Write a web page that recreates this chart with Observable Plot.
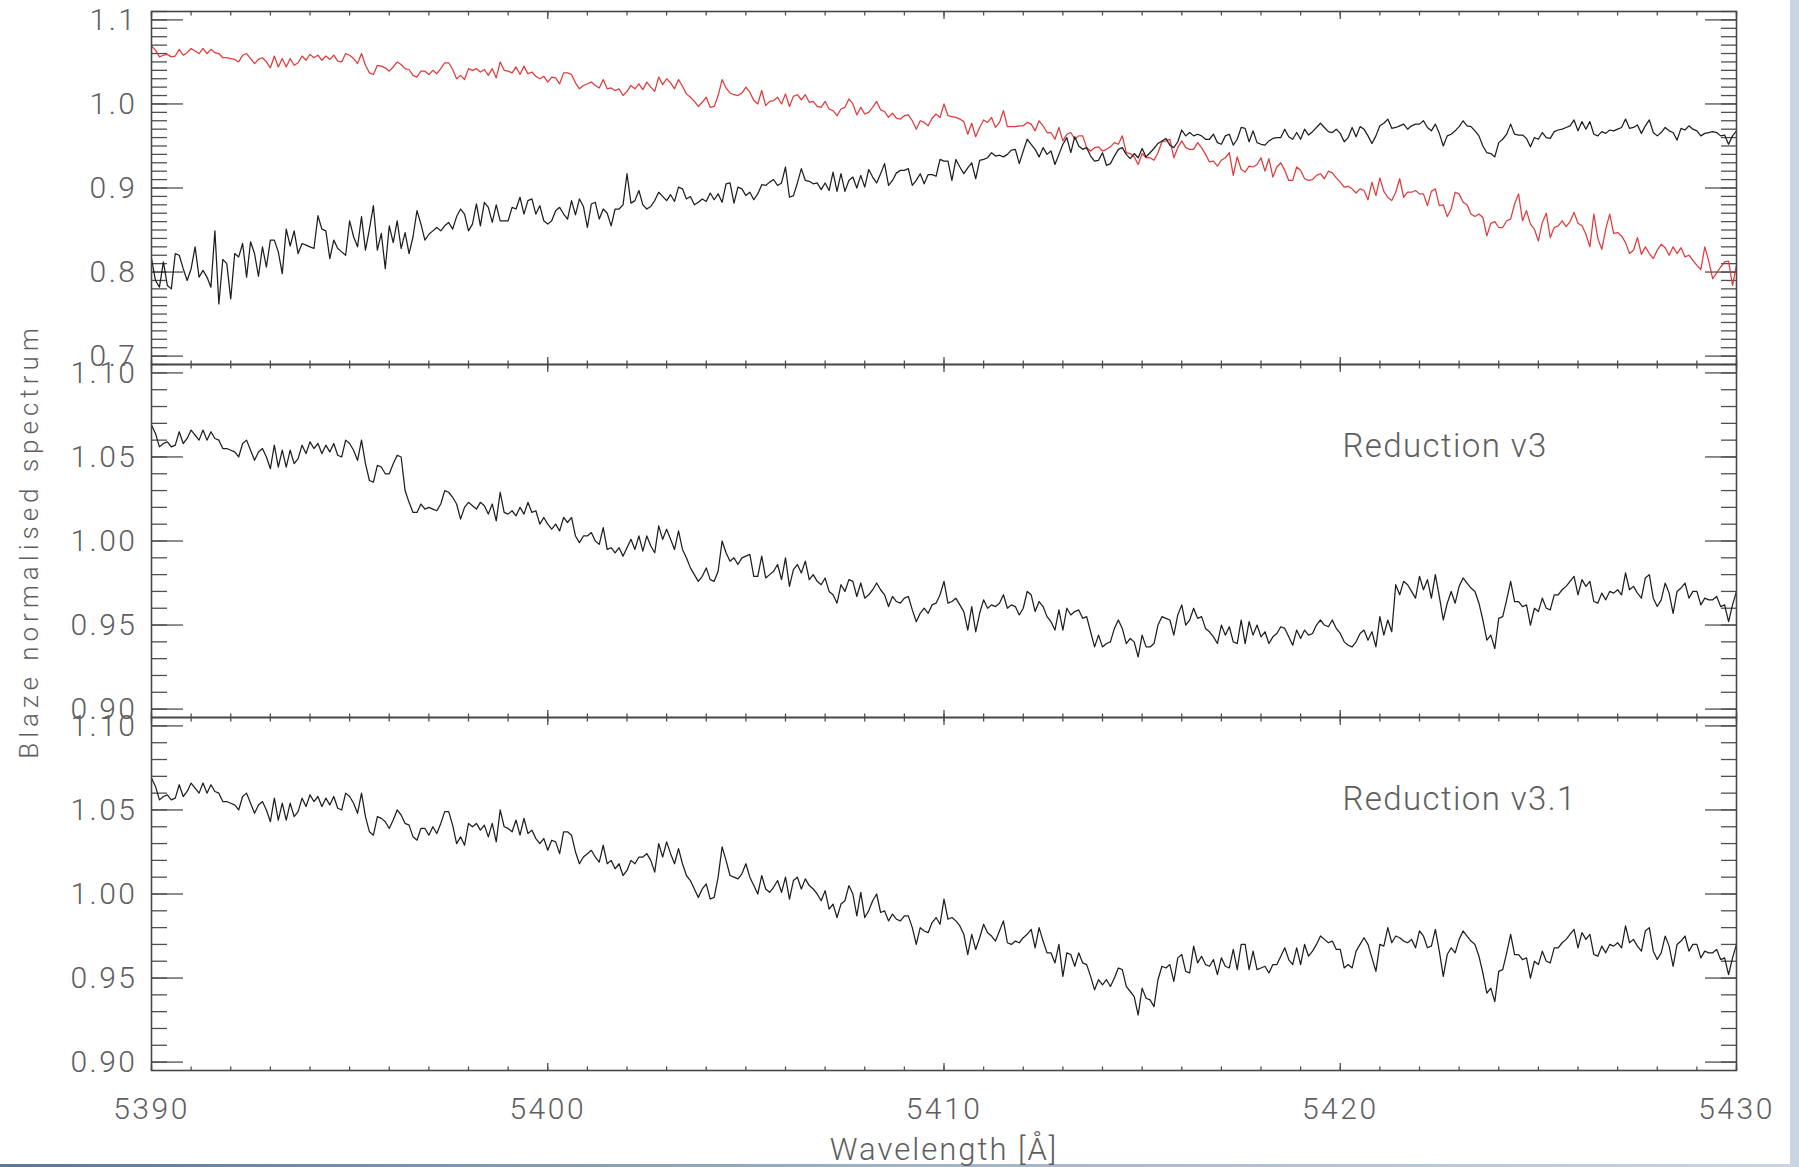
<!DOCTYPE html>
<html>
<head>
<meta charset="utf-8">
<script src="https://cdn.jsdelivr.net/npm/d3@7"></script>
<script src="https://cdn.jsdelivr.net/npm/@observablehq/plot@0.6"></script>
<style>
  html, body { margin: 0; padding: 0; background: #fff; }
  #chart { position: relative; width: 1799px; height: 1167px; overflow: hidden; background: #fff; }
  #chart svg { position: absolute; left: 0; }
  #rstrip { position: absolute; left: 1790px; top: 0; width: 9px; height: 1167px; background: #c9d5e2; }
  #bstrip { position: absolute; left: 0; top: 1164px; width: 1790px; height: 3px;
            background: linear-gradient(to right, #5b7896, #9fb2c6 50%, #c9d5e2); }
</style>
</head>
<body>
<div id="chart"><div id="rstrip"></div><div id="bstrip"></div></div>
<script>
// ---------------- data (wavelength grid 5390.0 .. 5430.0 Å, 0.1 Å steps) ----------------
const wavelengthRange = [5390, 5430];
const xMajorTicks = [5390, 5400, 5410, 5420, 5430];
const xMinorTicks = d3.range(5390, 5431, 1);
const yMajorTop = [0.7, 0.8, 0.9, 1.0, 1.1];
const yMinorTop = d3.range(69, 112).map(d => d / 100);
const yMajorLow = [0.90, 0.95, 1.00, 1.05, 1.10];
const yMinorLow = d3.range(90, 111).map(d => d / 100);
const panelLabels = ["Reduction v3", "Reduction v3.1"];
const xTitle = "Wavelength [Å]";
const yTitle = "Blaze normalised spectrum";

// top panel, red: spectrum before correction
const fluxOriginal = [
1.069,1.064,1.056,1.058,1.059,1.056,1.057,1.065,1.058,1.061,
1.066,1.063,1.060,1.066,1.060,1.065,1.061,1.060,1.055,1.055,
1.054,1.053,1.050,1.058,1.060,1.054,1.048,1.053,1.055,1.050,
1.043,1.057,1.044,1.054,1.044,1.054,1.046,1.049,1.057,1.052,
1.059,1.055,1.058,1.052,1.057,1.053,1.058,1.051,1.050,1.060,
1.058,1.054,1.048,1.060,1.046,1.037,1.035,1.046,1.045,1.043,
1.039,1.044,1.050,1.047,1.042,1.041,1.034,1.032,1.039,1.039,
1.035,1.040,1.036,1.042,1.049,1.049,1.041,1.030,1.034,1.029,
1.042,1.040,1.042,1.038,1.041,1.034,1.042,1.031,1.050,1.040,
1.039,1.037,1.044,1.035,1.045,1.036,1.038,1.033,1.030,1.033,
1.026,1.032,1.031,1.024,1.037,1.037,1.035,1.025,1.018,1.022,
1.024,1.026,1.022,1.019,1.029,1.018,1.019,1.016,1.018,1.010,
1.015,1.022,1.018,1.024,1.017,1.026,1.020,1.015,1.032,1.023,
1.030,1.025,1.018,1.029,1.021,1.012,1.008,1.003,0.997,1.002,
1.008,0.996,0.997,1.010,1.029,1.019,1.013,1.011,1.010,1.013,
1.020,1.014,1.004,1.000,1.016,0.998,1.003,1.004,1.008,1.000,
1.012,0.997,1.009,1.011,1.005,1.011,1.002,1.003,0.997,0.996,
1.003,0.994,0.992,0.986,0.994,0.996,1.006,1.000,0.987,0.996,
0.988,0.990,0.996,1.003,0.993,0.991,0.984,0.989,0.983,0.982,
0.986,0.987,0.980,0.970,0.980,0.978,0.974,0.983,0.988,0.984,
1.000,0.986,0.985,0.984,0.982,0.979,0.964,0.977,0.961,0.972,
0.981,0.978,0.984,0.972,0.978,0.992,0.973,0.973,0.973,0.974,
0.974,0.978,0.976,0.968,0.980,0.974,0.966,0.966,0.958,0.972,
0.956,0.964,0.966,0.958,0.962,0.962,0.948,0.944,0.948,0.949,
0.944,0.946,0.949,0.954,0.952,0.962,0.942,0.941,0.937,0.928,
0.941,0.936,0.936,0.933,0.942,0.955,0.956,0.958,0.936,0.948,
0.956,0.948,0.946,0.946,0.954,0.948,0.940,0.931,0.932,0.926,
0.933,0.936,0.942,0.915,0.937,0.922,0.919,0.926,0.925,0.928,
0.936,0.920,0.935,0.913,0.925,0.930,0.921,0.909,0.909,0.925,
0.921,0.911,0.909,0.910,0.915,0.917,0.911,0.920,0.918,0.912,
0.907,0.901,0.902,0.899,0.894,0.899,0.897,0.886,0.907,0.891,
0.912,0.896,0.889,0.885,0.895,0.911,0.889,0.895,0.895,0.897,
0.893,0.893,0.879,0.896,0.899,0.879,0.880,0.866,0.875,0.895,
0.893,0.883,0.880,0.869,0.866,0.869,0.865,0.843,0.858,0.860,
0.853,0.853,0.861,0.863,0.881,0.893,0.861,0.873,0.857,0.851,
0.837,0.859,0.870,0.841,0.853,0.855,0.861,0.854,0.860,0.871,
0.858,0.855,0.845,0.830,0.869,0.840,0.827,0.851,0.869,0.846,
0.847,0.843,0.835,0.822,0.826,0.841,0.821,0.830,0.822,0.816,
0.826,0.833,0.829,0.820,0.830,0.822,0.829,0.818,0.820,0.814,
0.808,0.803,0.830,0.813,0.792,0.799,0.806,0.812,0.813,0.784,
0.808
];

// top panel, black
const fluxRatio = [
0.816,0.790,0.782,0.812,0.784,0.780,0.822,0.820,0.804,0.790,
0.804,0.830,0.794,0.802,0.794,0.782,0.849,0.762,0.815,0.810,
0.768,0.822,0.818,0.834,0.794,0.836,0.822,0.795,0.830,0.806,
0.838,0.838,0.824,0.798,0.851,0.831,0.849,0.822,0.834,0.832,
0.830,0.828,0.867,0.851,0.849,0.816,0.838,0.828,0.824,0.820,
0.861,0.842,0.830,0.866,0.826,0.851,0.879,0.826,0.846,0.804,
0.855,0.835,0.861,0.828,0.847,0.822,0.842,0.873,0.857,0.838,
0.845,0.849,0.853,0.849,0.855,0.859,0.851,0.866,0.875,0.869,
0.849,0.857,0.881,0.855,0.883,0.877,0.859,0.880,0.861,0.861,
0.861,0.877,0.875,0.889,0.869,0.885,0.887,0.869,0.879,0.861,
0.857,0.861,0.873,0.877,0.869,0.863,0.885,0.868,0.887,0.878,
0.853,0.881,0.883,0.863,0.875,0.870,0.855,0.875,0.875,0.880,
0.917,0.882,0.885,0.897,0.880,0.875,0.878,0.885,0.895,0.890,
0.885,0.892,0.884,0.901,0.899,0.887,0.890,0.880,0.883,0.887,
0.884,0.894,0.886,0.893,0.883,0.905,0.906,0.882,0.901,0.899,
0.891,0.895,0.886,0.893,0.904,0.903,0.907,0.910,0.903,0.906,
0.925,0.889,0.891,0.906,0.923,0.909,0.908,0.905,0.906,0.898,
0.906,0.897,0.919,0.896,0.917,0.896,0.909,0.913,0.900,0.915,
0.901,0.922,0.913,0.906,0.917,0.929,0.903,0.909,0.918,0.921,
0.921,0.923,0.903,0.909,0.917,0.905,0.916,0.916,0.914,0.934,
0.932,0.932,0.909,0.934,0.925,0.917,0.924,0.930,0.911,0.933,
0.934,0.936,0.942,0.938,0.939,0.937,0.940,0.945,0.946,0.929,
0.944,0.958,0.952,0.946,0.937,0.948,0.940,0.944,0.928,0.940,
0.952,0.960,0.942,0.961,0.950,0.946,0.948,0.938,0.932,0.933,
0.942,0.927,0.929,0.938,0.946,0.948,0.940,0.935,0.941,0.936,
0.947,0.937,0.942,0.947,0.953,0.956,0.959,0.951,0.948,0.955,
0.969,0.962,0.966,0.962,0.964,0.962,0.958,0.958,0.964,0.954,
0.952,0.962,0.964,0.951,0.958,0.972,0.971,0.955,0.968,0.954,
0.952,0.951,0.956,0.959,0.960,0.960,0.970,0.961,0.958,0.966,
0.958,0.970,0.963,0.967,0.972,0.977,0.972,0.967,0.966,0.970,
0.965,0.955,0.960,0.972,0.961,0.973,0.970,0.962,0.953,0.962,
0.974,0.977,0.982,0.971,0.972,0.974,0.976,0.970,0.974,0.976,
0.976,0.980,0.972,0.968,0.976,0.965,0.950,0.962,0.964,0.968,
0.973,0.980,0.974,0.973,0.968,0.962,0.950,0.942,0.941,0.937,
0.954,0.958,0.964,0.976,0.964,0.963,0.963,0.959,0.949,0.960,
0.958,0.966,0.960,0.959,0.967,0.969,0.970,0.972,0.974,0.981,
0.968,0.979,0.970,0.979,0.964,0.962,0.967,0.965,0.969,0.968,
0.970,0.972,0.982,0.971,0.972,0.975,0.965,0.974,0.981,0.966,
0.962,0.966,0.972,0.968,0.966,0.957,0.971,0.969,0.974,0.970,
0.968,0.962,0.965,0.966,0.967,0.966,0.962,0.963,0.952,0.962,
0.968
];

// middle panel: Reduction v3
const fluxV3 = [
1.069,1.064,1.056,1.058,1.059,1.056,1.057,1.065,1.058,1.061,
1.066,1.063,1.060,1.066,1.060,1.065,1.061,1.060,1.055,1.055,
1.054,1.053,1.050,1.058,1.060,1.054,1.048,1.053,1.055,1.050,
1.043,1.057,1.044,1.054,1.044,1.054,1.046,1.049,1.057,1.052,
1.059,1.055,1.058,1.052,1.057,1.053,1.058,1.051,1.050,1.060,
1.058,1.054,1.048,1.060,1.046,1.036,1.035,1.045,1.044,1.040,
1.040,1.046,1.051,1.050,1.030,1.023,1.017,1.017,1.022,1.019,
1.020,1.019,1.018,1.022,1.030,1.029,1.026,1.022,1.013,1.020,
1.023,1.021,1.019,1.023,1.021,1.016,1.022,1.012,1.029,1.017,
1.016,1.018,1.015,1.020,1.016,1.023,1.017,1.018,1.010,1.014,
1.010,1.007,1.010,1.006,1.014,1.011,1.014,1.003,0.999,1.003,
1.003,1.005,1.000,0.998,1.008,0.995,0.996,0.993,0.996,0.991,
0.996,1.001,0.995,1.003,0.994,1.003,0.997,0.993,1.009,1.001,
1.007,1.001,0.995,1.006,0.995,0.990,0.984,0.980,0.976,0.979,
0.984,0.977,0.976,0.982,1.000,0.993,0.988,0.990,0.986,0.990,
0.991,0.992,0.979,0.979,0.991,0.978,0.980,0.982,0.986,0.977,
0.990,0.973,0.983,0.986,0.981,0.988,0.977,0.980,0.976,0.974,
0.978,0.970,0.968,0.963,0.974,0.970,0.977,0.976,0.967,0.975,
0.966,0.968,0.971,0.975,0.971,0.968,0.961,0.967,0.964,0.963,
0.966,0.967,0.959,0.952,0.957,0.960,0.957,0.962,0.963,0.968,
0.976,0.963,0.964,0.966,0.962,0.958,0.947,0.961,0.946,0.957,
0.965,0.960,0.962,0.961,0.963,0.968,0.960,0.962,0.961,0.956,
0.960,0.970,0.968,0.958,0.964,0.961,0.955,0.952,0.947,0.959,
0.947,0.960,0.956,0.958,0.959,0.954,0.955,0.946,0.937,0.944,
0.937,0.939,0.940,0.948,0.953,0.948,0.939,0.942,0.940,0.931,
0.944,0.937,0.937,0.939,0.950,0.955,0.954,0.953,0.944,0.956,
0.962,0.950,0.953,0.960,0.954,0.955,0.948,0.946,0.943,0.939,
0.950,0.944,0.949,0.940,0.939,0.953,0.939,0.952,0.944,0.950,
0.943,0.946,0.939,0.943,0.945,0.949,0.948,0.943,0.938,0.947,
0.942,0.947,0.944,0.945,0.950,0.953,0.950,0.949,0.953,0.948,
0.945,0.940,0.938,0.937,0.940,0.945,0.947,0.941,0.946,0.937,
0.955,0.944,0.953,0.946,0.974,0.968,0.976,0.974,0.970,0.966,
0.979,0.971,0.977,0.966,0.980,0.967,0.953,0.963,0.970,0.963,
0.973,0.978,0.975,0.972,0.970,0.963,0.953,0.941,0.944,0.936,
0.954,0.955,0.965,0.976,0.964,0.964,0.961,0.962,0.950,0.960,
0.958,0.966,0.960,0.959,0.968,0.968,0.971,0.973,0.976,0.979,
0.968,0.977,0.973,0.976,0.964,0.963,0.969,0.965,0.970,0.969,
0.971,0.968,0.981,0.971,0.973,0.969,0.966,0.978,0.980,0.966,
0.961,0.965,0.975,0.969,0.957,0.970,0.972,0.975,0.966,0.970,
0.970,0.962,0.966,0.965,0.965,0.967,0.961,0.962,0.952,0.962,
0.970
];

// bottom panel: Reduction v3.1
const fluxV31 = [
1.069,1.064,1.056,1.058,1.059,1.056,1.057,1.065,1.058,1.061,
1.066,1.063,1.060,1.066,1.060,1.065,1.061,1.060,1.055,1.055,
1.054,1.053,1.050,1.058,1.060,1.054,1.048,1.053,1.055,1.050,
1.043,1.057,1.044,1.054,1.044,1.054,1.046,1.049,1.057,1.052,
1.059,1.055,1.058,1.052,1.057,1.053,1.058,1.051,1.050,1.060,
1.058,1.054,1.048,1.060,1.046,1.037,1.035,1.046,1.045,1.043,
1.039,1.044,1.050,1.047,1.042,1.041,1.034,1.032,1.039,1.039,
1.035,1.040,1.036,1.042,1.049,1.049,1.041,1.030,1.034,1.029,
1.042,1.040,1.042,1.038,1.041,1.034,1.042,1.031,1.050,1.040,
1.039,1.037,1.044,1.035,1.045,1.036,1.038,1.033,1.030,1.033,
1.026,1.032,1.031,1.024,1.037,1.037,1.035,1.025,1.018,1.022,
1.024,1.026,1.022,1.019,1.029,1.018,1.020,1.015,1.018,1.011,
1.014,1.020,1.018,1.022,1.022,1.024,1.020,1.013,1.030,1.022,
1.031,1.024,1.018,1.027,1.018,1.011,1.008,1.003,0.998,1.003,
1.006,0.997,0.998,1.010,1.028,1.020,1.011,1.010,1.009,1.012,
1.018,1.010,1.005,1.000,1.011,1.003,1.001,1.004,1.008,1.001,
1.010,0.997,1.008,1.010,1.003,1.009,1.005,1.003,1.000,0.996,
1.002,0.991,0.994,0.986,0.994,0.996,1.005,1.000,0.987,1.001,
0.986,0.990,0.996,1.000,0.989,0.990,0.984,0.988,0.985,0.984,
0.987,0.987,0.980,0.970,0.980,0.978,0.977,0.983,0.986,0.982,
0.997,0.985,0.986,0.984,0.981,0.976,0.964,0.976,0.967,0.974,
0.982,0.977,0.975,0.972,0.978,0.984,0.971,0.970,0.972,0.971,
0.974,0.976,0.979,0.968,0.980,0.972,0.965,0.965,0.959,0.970,
0.951,0.965,0.964,0.957,0.965,0.959,0.958,0.951,0.943,0.949,
0.946,0.949,0.945,0.950,0.956,0.955,0.945,0.942,0.939,0.928,
0.944,0.938,0.937,0.933,0.949,0.957,0.956,0.958,0.948,0.962,
0.964,0.954,0.953,0.969,0.959,0.963,0.958,0.957,0.961,0.952,
0.962,0.957,0.956,0.967,0.955,0.970,0.970,0.955,0.966,0.955,
0.956,0.957,0.953,0.958,0.958,0.963,0.968,0.961,0.958,0.968,
0.958,0.970,0.963,0.966,0.970,0.975,0.973,0.971,0.972,0.967,
0.967,0.956,0.958,0.956,0.966,0.970,0.974,0.970,0.962,0.954,
0.970,0.969,0.980,0.971,0.975,0.974,0.972,0.971,0.973,0.968,
0.978,0.975,0.968,0.969,0.979,0.966,0.951,0.964,0.968,0.965,
0.973,0.978,0.975,0.972,0.970,0.963,0.953,0.941,0.944,0.936,
0.954,0.955,0.965,0.976,0.964,0.964,0.961,0.962,0.950,0.960,
0.958,0.966,0.960,0.959,0.968,0.968,0.971,0.973,0.976,0.979,
0.968,0.977,0.973,0.976,0.964,0.963,0.969,0.965,0.970,0.969,
0.971,0.968,0.981,0.971,0.973,0.969,0.966,0.978,0.980,0.966,
0.961,0.965,0.975,0.969,0.957,0.970,0.972,0.975,0.966,0.970,
0.970,0.962,0.966,0.965,0.965,0.967,0.961,0.962,0.952,0.962,
0.970
];

// ---------------- drawing ----------------
function points(values) {
  const step = (wavelengthRange[1] - wavelengthRange[0]) / (values.length - 1);
  return values.map((v, i) => ({wavelength: wavelengthRange[0] + i * step, flux: v}));
}

const FRAME = "#474747", TICK = "#4f4f4f", TEXT = "#5e5e5e";
const FONT = "Roboto, 'Open Sans', 'DejaVu Sans', sans-serif";
const W = 1799, ML = 151, MR = 63, INNER = 353;

function panel({top, marginTop, marginBottom, yDomain, yMajor, yMinor, yFormat, lines, extra = []}) {
  const svg = Plot.plot({
    width: W,
    height: marginTop + INNER + marginBottom,
    marginLeft: ML, marginRight: MR, marginTop, marginBottom,
    style: {background: "transparent", overflow: "visible", fontFamily: FONT, fontWeight: "300"},
    x: {domain: wavelengthRange, axis: null},
    y: {domain: yDomain, axis: null},
    marks: [
      Plot.axisY(yMinor, {anchor: "left", tickSize: -16, fill: "none", stroke: TICK, strokeWidth: 1.3, label: null}),
      Plot.axisY(yMajor, {anchor: "left", tickSize: -32, fill: "none", stroke: TICK, strokeWidth: 1.3, label: null}),
      Plot.axisY(yMinor, {anchor: "right", tickSize: -16, fill: "none", stroke: TICK, strokeWidth: 1.3, label: null}),
      Plot.axisY(yMajor, {anchor: "right", tickSize: -32, fill: "none", stroke: TICK, strokeWidth: 1.3, label: null}),
      Plot.axisY(yMajor, {anchor: "left", tickSize: 0, tickPadding: 14, tickFormat: d3.format(yFormat),
                          fontSize: 30, fill: TEXT, label: null}),
      Plot.axisX(xMinorTicks, {anchor: "bottom", tickSize: -3.5, fill: "none", stroke: TICK, strokeWidth: 1.3, label: null}),
      Plot.axisX(xMajorTicks, {anchor: "bottom", tickSize: -7, fill: "none", stroke: TICK, strokeWidth: 1.3, label: null}),
      Plot.axisX(xMinorTicks, {anchor: "top", tickSize: -3.5, fill: "none", stroke: TICK, strokeWidth: 1.3, label: null}),
      Plot.axisX(xMajorTicks, {anchor: "top", tickSize: -7, fill: "none", stroke: TICK, strokeWidth: 1.3, label: null}),
      ...lines.map(l => Plot.line(points(l.values), {x: "wavelength", y: "flux", stroke: l.color, strokeWidth: 1.25})),
      Plot.frame({stroke: FRAME, strokeWidth: 1.6}),
      ...extra
    ]
  });
  svg.style.top = top + "px";
  // letter spacing to mimic the wide vector font
  svg.querySelectorAll("text").forEach(t => {
    const s = t.textContent;
    if (s === yTitle) t.style.letterSpacing = "5px";
    else if (s === xTitle) t.style.letterSpacing = "2px";
    else if (s.startsWith("Reduction")) t.style.letterSpacing = "1.4px";
    else t.style.letterSpacing = "2.5px";
  });
  return svg;
}

const chart = document.getElementById("chart");

chart.appendChild(panel({
  top: 0, marginTop: 11, marginBottom: 6,
  yDomain: [0.69, 1.11], yMajor: yMajorTop, yMinor: yMinorTop, yFormat: ".1f",
  lines: [{values: fluxOriginal, color: "#e03a3c"}, {values: fluxRatio, color: "#1e1e1e"}]
}));

chart.appendChild(panel({
  top: 334, marginTop: 30, marginBottom: 6,
  yDomain: [0.895, 1.105], yMajor: yMajorLow, yMinor: yMinorLow, yFormat: ".2f",
  lines: [{values: fluxV3, color: "#1e1e1e"}],
  extra: [
    Plot.text([panelLabels[0]], {text: d => d, frameAnchor: "top-left", dx: 1191, dy: 82,
      textAnchor: "start", lineAnchor: "middle", fontSize: 33, fill: TEXT}),
    Plot.text([yTitle], {text: d => d, frameAnchor: "left", dx: -122, rotate: -90,
      textAnchor: "middle", lineAnchor: "middle", fontSize: 26, fill: TEXT})
  ]
}));

chart.appendChild(panel({
  top: 687, marginTop: 30, marginBottom: 97,
  yDomain: [0.895, 1.105], yMajor: yMajorLow, yMinor: yMinorLow, yFormat: ".2f",
  lines: [{values: fluxV31, color: "#1e1e1e"}],
  extra: [
    Plot.axisX(xMajorTicks, {anchor: "bottom", tickSize: 0, tickPadding: 27, tickFormat: d3.format("d"),
      fontSize: 30, fill: TEXT, label: null}),
    Plot.text([panelLabels[1]], {text: d => d, frameAnchor: "top-left", dx: 1191, dy: 82,
      textAnchor: "start", lineAnchor: "middle", fontSize: 33, fill: TEXT}),
    Plot.text([xTitle], {text: d => d, frameAnchor: "bottom", dy: 67,
      textAnchor: "middle", lineAnchor: "top", fontSize: 31, fill: TEXT})
  ]
}));
</script>
</body>
</html>
